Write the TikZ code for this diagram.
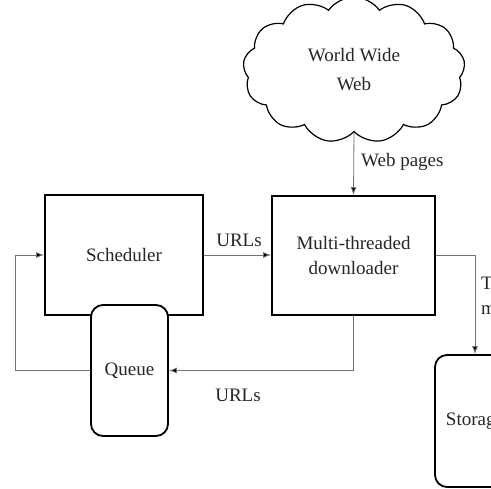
\documentclass[tikz,border=0pt]{standalone}
\usepackage{fontspec}
\setmainfont{Liberation Serif}
\usetikzlibrary{shapes.symbols,arrows.meta,calc}
\begin{document}
\begin{tikzpicture}[x=1pt,y=-1pt,
  every node/.style={font=\fontsize{19}{25}\selectfont, text=black!85},
  block/.style={draw=black, line width=1.8pt, fill=white, align=center, inner sep=0pt},
  rblock/.style={block, rounded corners=12pt},
  conn/.style={draw=black!55, line width=0.8pt},
  arr/.style={conn, -{Latex[length=8pt,width=6pt,fill=black]}},
  lbl/.style={inner sep=0pt}
]
\useasboundingbox (0,0) rectangle (491,489);
\clip (0,0) rectangle (491,489);
\fill[white] (0,0) rectangle (491,489);

\node[draw=black, line width=1.2pt, cloud, cloud puffs=13, cloud puff arc=110, aspect=1.72,
      minimum width=222pt, minimum height=146pt, align=center,
      font=\fontsize{19}{29}\selectfont] (www) at (354,70) {World Wide\\Web};

\node[block, minimum width=158pt, minimum height=120pt] (sched) at (124,255) {Scheduler};
\node[block, minimum width=163pt, minimum height=119pt] (down) at (353.5,255.5) {Multi-threaded\\downloader};
\node[rblock, minimum width=77pt, minimum height=131pt] (queue) at (129.5,370.5) {Queue};
\node[rblock, minimum width=80pt, minimum height=132pt] (store) at (475,421) {Storage};

\coordinate (lp) at (15,0);
\coordinate (rp) at (475,0);

\draw[arr] (www.south) -- (down.north);
\draw[arr] (sched.east) -- (down.west |- sched.east);
\draw[arr] (down.south) |- (queue.east);
\draw[arr] (queue.west) -- (lp |- queue.west) |- (sched.west);
\draw[arr] (down.east) -| (rp |- store.north);

\node[lbl, anchor=west] (wp) at (361,162) {Web pages};
\node[lbl] (u1) at (239,240) {URLs};
\node[lbl] (u2) at (238,395) {URLs};
\node[lbl, anchor=north west, align=left] (tm) at (481,276) {Text and\\metadata};
\end{tikzpicture}
\end{document}
